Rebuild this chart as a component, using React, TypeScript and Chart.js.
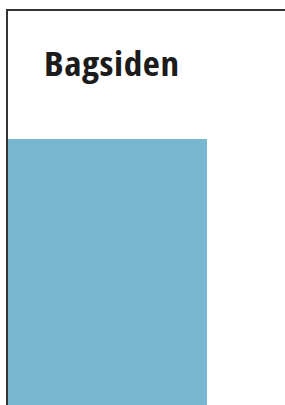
import React, { useEffect, useRef } from "react";
import { Chart, registerables } from "chart.js";

Chart.register(...registerables);

const titleText = "Bagsiden";
const categories = ["Bagsiden"];
const values = [100];
const yMax = 100;

export default function App() {
  const canvasRef = useRef<HTMLCanvasElement | null>(null);

  useEffect(() => {
    if (!canvasRef.current) return;
    const chart = new Chart(canvasRef.current, {
      type: "bar",
      data: {
        labels: categories,
        datasets: [
          {
            data: values,
            backgroundColor: "#77b8d0",
            borderWidth: 0,
            barPercentage: 1,
            categoryPercentage: 1,
          },
        ],
      },
      options: {
        animation: false,
        responsive: true,
        maintainAspectRatio: false,
        layout: { padding: { left: 0, right: 78, top: 0, bottom: 0 } },
        plugins: { legend: { display: false }, tooltip: { enabled: false }, title: { display: false } },
        scales: {
          x: { display: false },
          y: { display: false, min: 0, max: yMax },
        },
      },
    });
    return () => chart.destroy();
  }, []);

  return (
    <div
      style={{
        position: "fixed",
        left: 6,
        top: 9,
        width: 279,
        height: 396,
        borderTop: "2px solid #333",
        borderLeft: "2px solid #333",
        background: "#fff",
        boxSizing: "border-box",
      }}
    >
      <div
        style={{
          position: "absolute",
          left: 36,
          top: 35,
          fontFamily: "'Open Sans', sans-serif",
          fontWeight: 700,
          fontStretch: "75%",
          fontSize: 34,
          lineHeight: "34px",
          letterSpacing: "0.5px",
          transform: "scaleX(1.095)",
          transformOrigin: "left center",
          color: "#1c1c1c",
          whiteSpace: "nowrap",
        }}
      >
        {titleText}
      </div>
      <div style={{ position: "absolute", left: 0, top: 128, width: 277, height: 266 }}>
        <canvas ref={canvasRef} />
      </div>
    </div>
  );
}
